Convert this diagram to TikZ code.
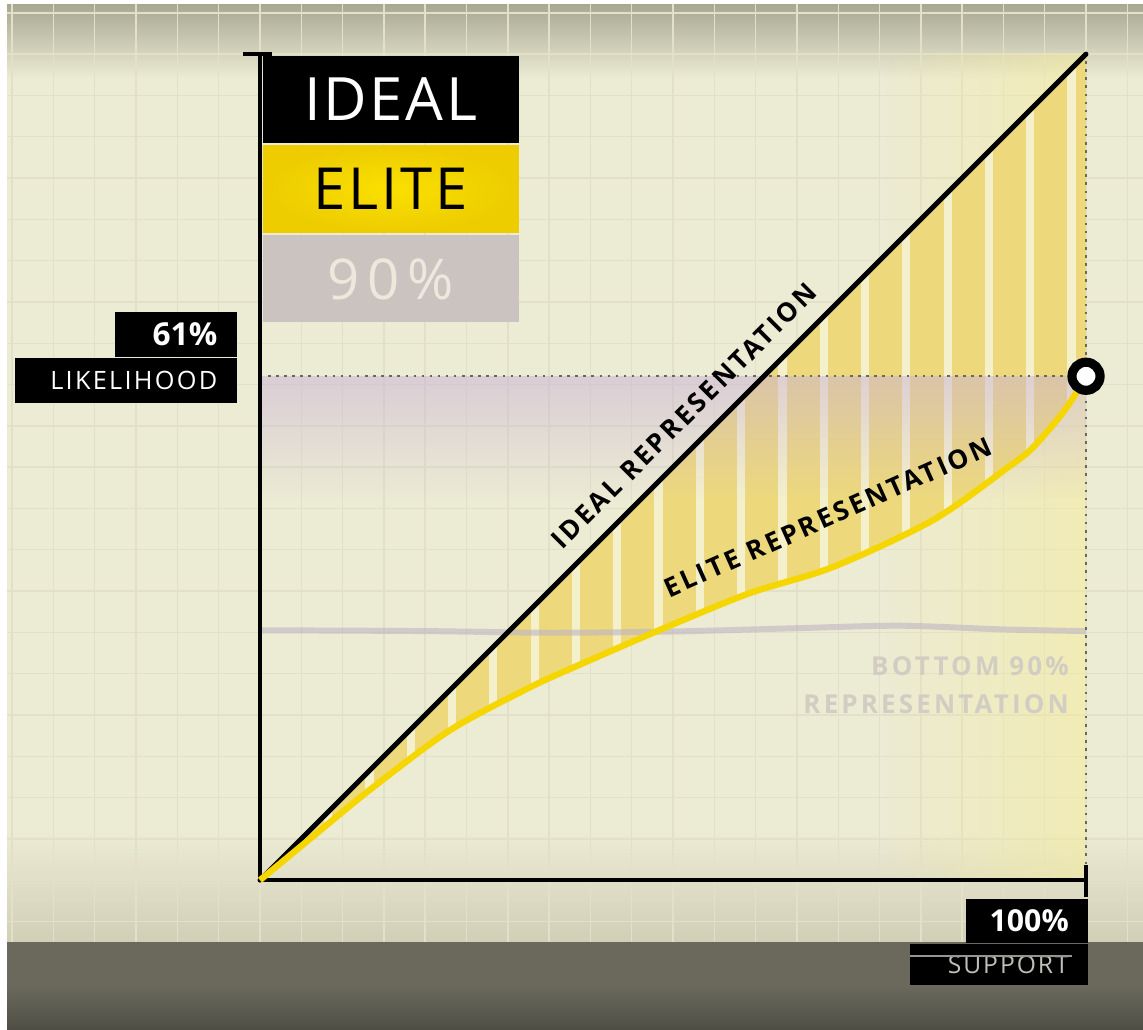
\documentclass[tikz,border=0pt]{standalone}
\usepackage{fontspec}
\setmainfont{Open Sans}
\newfontfamily\labelface[LetterSpace=11]{Open Sans}
\usetikzlibrary{positioning,fadings}

\definecolor{paper}{RGB}{236,235,212}
\definecolor{gridtone}{RGB}{226,224,201}
\definecolor{topshade}{RGB}{142,141,119}
\definecolor{floorshade}{RGB}{200,197,172}
\definecolor{bandgray}{RGB}{106,105,92}
\definecolor{banddark}{RGB}{70,70,62}
\definecolor{paleyellow}{RGB}{247,236,150}
\definecolor{stripebase}{RGB}{244,240,204}
\definecolor{stripegold}{RGB}{236,212,104}
\definecolor{bandmauve}{RGB}{200,176,214}
\definecolor{bottomline}{RGB}{190,180,195}
\definecolor{elitegold}{RGB}{245,214,0}
\definecolor{elitelight}{RGB}{250,224,0}
\definecolor{elitedeep}{RGB}{237,204,0}
\definecolor{mauve}{RGB}{202,195,192}
\definecolor{ninetytext}{RGB}{238,232,220}
\definecolor{supporttext}{RGB}{192,192,184}
\definecolor{glitch}{RGB}{150,150,145}
\definecolor{faintgray}{RGB}{210,205,194}
\definecolor{dotgray}{RGB}{105,103,94}

\tikzset{
    keybox/.style={inner sep=0pt, minimum width=25.6mm, minimum height=8.7mm, text depth=0pt},
    tagbox/.style={fill=black, text=white, inner ysep=0pt, inner xsep=1.95mm, align=right, text depth=0pt},
    linetag/.style={inner sep=0pt, text depth=0pt, font=\labelface\bfseries\fontsize{7.5}{7.5}\selectfont},
    axis/.style={line width=1.2pt},
    guide/.style={dotgray, line width=0.6pt, dash pattern=on 0.7pt off 1.6pt}
}

\begin{document}
\begin{tikzpicture}[x=4.13mm, y=4.13mm]
    \useasboundingbox (-6.295, -3.608) rectangle (21.38, 21.31);
    \fill[white] (-6.295, -3.608) rectangle (21.38, 21.31);
    \fill[paper] (-6.125, -1.5) rectangle (21.38, 21.19);
    \begin{scope}
        \clip (-6.125, -1.5) rectangle (21.38, 21.19);
        \shade[top color=topshade, bottom color=paper] (-6.125, 19.4) rectangle (21.38, 21.9);
        \shade[top color=paper, bottom color=floorshade] (-6.125, -2.4) rectangle (21.38, 1.2);
        \draw[gridtone, line width=0.4pt, step=4.13mm] (-7, -2) grid (22, 22);
    \end{scope}
    \fill[bandgray] (-6.125, -3.608) rectangle (21.38, -1.5);
    \begin{scope}
        \clip (-6.125, -3.608) rectangle (21.38, -1.5);
        \shade[top color=bandgray, bottom color=banddark] (-6.125, -3.95) rectangle (21.38, -2.55);
    \end{scope}

    \coordinate (O) at (0, 0);
    \coordinate (xend) at (20, 0);
    \coordinate (yend) at (0, 20);
    \coordinate (top) at (20, 20);
    \coordinate (peak) at (20, 12.2);
    \coordinate (level) at (0, 12.2);

    \fill[paleyellow, opacity=0.5, path fading=west] (15, 0) rectangle (20, 20);
    \begin{scope}
        \clip plot[smooth] coordinates {(0, 0) (1.38, 1.14) (2.74, 2.25) (4.6, 3.63) (6.54, 4.67)
            (7.82, 5.25) (9.85, 6.13) (11.86, 6.95) (13.87, 7.58) (16.3, 8.72) (18.09, 9.98)
            (18.72, 10.48) (19.5, 11.4) (20, 12.2)} -- (20, 20) -- cycle;
        \fill[stripebase] (0, 0) rectangle (20, 20);
        \foreach \k in {0,...,20}
            \fill[stripegold, opacity=0.8] (\k-0.25, 0) rectangle (\k+0.55, 20);
    \end{scope}
    \fill[bandmauve, opacity=0.5, path fading=south] (0, 12.2) rectangle (20, 9.2);
    \draw[bottomline, opacity=0.6, line width=1.7pt]
        plot[smooth] coordinates {(0, 6.05) (4, 6.03) (7, 5.99) (10, 6.02) (13, 6.1) (15.5, 6.16) (18, 6.07) (20, 6.03)};

    \draw[guide] (level) -- (peak);
    \draw[guide] (xend) -- (top);
    \draw[axis] (yend) -- (O) -- (xend);
    \draw[axis] (-0.4, 20) -- (0.3, 20);
    \draw[axis] (20, 0.36) -- (20, -0.42);
    \draw[line width=1.4pt, line cap=round] (O) -- (top);
    \draw[elitegold, line width=1.8pt]
        plot[smooth] coordinates {(0, 0) (1.38, 1.14) (2.74, 2.25) (4.6, 3.63) (6.54, 4.67)
            (7.82, 5.25) (9.85, 6.13) (11.86, 6.95) (13.87, 7.58) (16.3, 8.72) (18.09, 9.98)
            (18.72, 10.48) (19.5, 11.4) (20, 12.2)};
    \node[circle, draw=black, fill=white, line width=2.6pt, minimum size=8pt, inner sep=0pt] (marker) at (peak) {};

    \node[keybox, fill=black, text=white, anchor=north west,
        font=\fontsize{17}{17}\selectfont\addfontfeatures{LetterSpace=4.5}] (ideal) at (0.05, 19.98) {IDEAL};
    \node[keybox, inner color=elitelight, outer color=elitedeep, below=0.4pt of ideal,
        font=\fontsize{16.5}{16.5}\selectfont\addfontfeatures{LetterSpace=5}] (elite) {ELITE};
    \node[keybox, fill=mauve, text=ninetytext, below=0.4pt of elite,
        font=\fontsize{16}{16}\selectfont\addfontfeatures{LetterSpace=14}] (ninety) {90\%};

    \node[tagbox, text width=8.26mm, minimum height=4.5mm, anchor=north east,
        font=\bfseries\fontsize{9}{9}\selectfont] (pct) at (-0.545, 13.78) {61\%};
    \node[tagbox, text width=18.26mm, minimum height=4.5mm, anchor=north east,
        font=\fontsize{7.2}{7.2}\selectfont\addfontfeatures{LetterSpace=9}] (likelihood) at (pct.south east) {LIKELIHOOD};
    \node[tagbox, text width=8.28mm, minimum height=4.38mm, anchor=north east,
        font=\bfseries\fontsize{8.6}{8.6}\selectfont] (full) at (20.07, -0.44) {100\%};
    \node[tagbox, text width=13.9mm, minimum height=4.1mm, anchor=north east, text=supporttext,
        font=\fontsize{7}{7}\selectfont\addfontfeatures{LetterSpace=8}] (support) at (full.south east) {SUPPORT};
    \draw[glitch, line width=0.4pt] (15.74, -1.84) -- (19.67, -1.84);

    \node[linetag, rotate=45] (idealtag) at (10.26, 11.24) {IDEAL REPRESENTATION};
    \node[linetag, rotate=24] (elitetag) at (13.75, 8.79) {ELITE REPRESENTATION};
    \node[anchor=east, align=right, inner sep=0pt, text=faintgray,
        font=\labelface\bfseries\fontsize{7.4}{10.7}\selectfont\addfontfeatures{LetterSpace=12}] (bottomtag) at (19.6, 4.72) {BOTTOM 90\%\\REPRESENTATION};
\end{tikzpicture}
\end{document}
